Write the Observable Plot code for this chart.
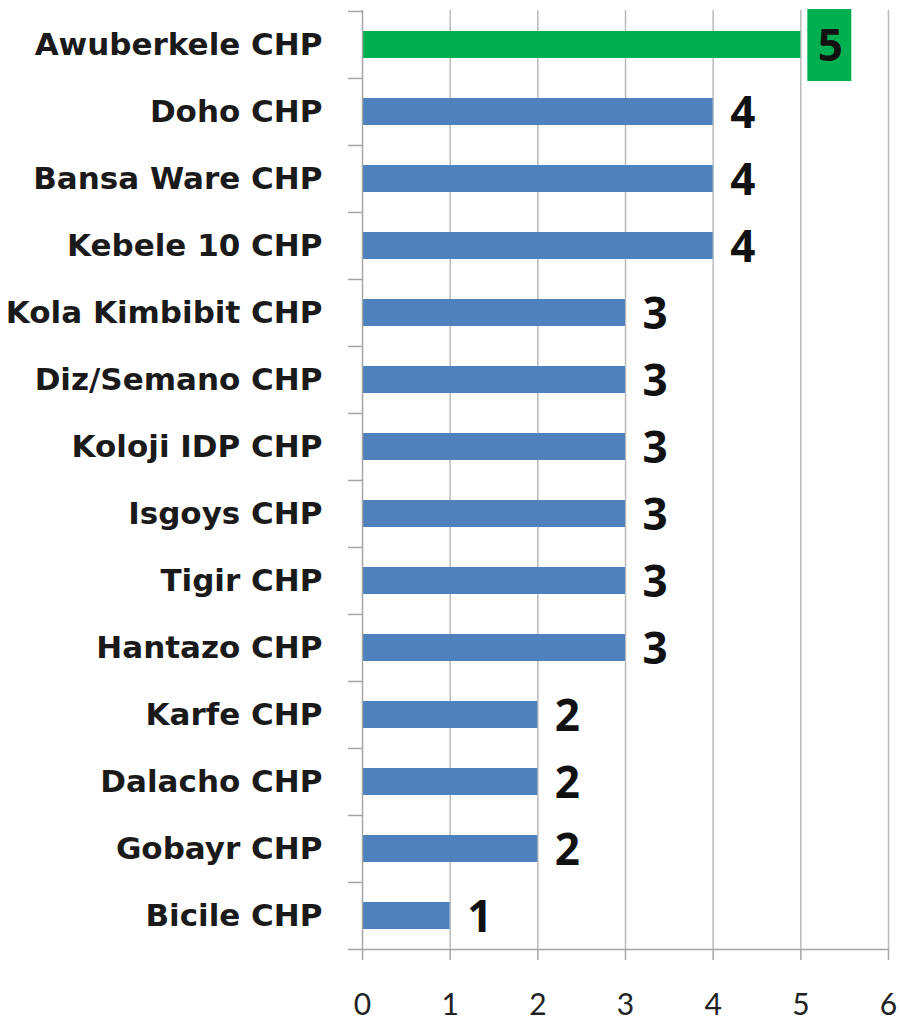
<!DOCTYPE html>
<html><head><meta charset="utf-8">
<script src="https://cdn.jsdelivr.net/npm/d3@7"></script>
<script src="https://cdn.jsdelivr.net/npm/@observablehq/plot@0.6"></script>
<style>body{margin:0;background:#fff}</style>
</head><body><div id="chart"></div>
<script>
const categories = ["Awuberkele CHP","Doho CHP","Bansa Ware CHP","Kebele 10 CHP","Kola Kimbibit CHP","Diz/Semano CHP","Koloji IDP CHP","Isgoys CHP","Tigir CHP","Hantazo CHP","Karfe CHP","Dalacho CHP","Gobayr CHP","Bicile CHP"];
const values = [5,4,4,4,3,3,3,3,3,3,2,2,2,1];
const xTicks = [0,1,2,3,4,5,6];
const highlight = "Awuberkele CHP";
const data = categories.map((name,i)=>({name, value: values[i]}));

const W=900, H=1021, mt=10, mb=72, ml=362, mr=12;
const step = (H-mt-mb)/categories.length;
const blue = "#4f81bd", green = "#00b050", axisGray = "#a6a6a6";

const chart = Plot.plot({
  width: W, height: H, marginTop: mt, marginBottom: mb, marginLeft: ml, marginRight: mr,
  style: {fontFamily: "'Open Sans', sans-serif", background: "#fff"},
  x: {domain: [0, 6], ticks: xTicks},
  y: {domain: categories, paddingInner: 0.6, paddingOuter: 0.3},
  marks: [
    Plot.gridX(xTicks.slice(1), {stroke: "#bababa", strokeOpacity: 1, strokeWidth: 1.5}),
    Plot.barX(data, {x: "value", y: "name", fill: d => d.name === highlight ? green : blue}),
    Plot.barX(data.filter(d => d.name === highlight), {x1: "value", x2: "value", y: "name", fill: green, insetLeft: 7, insetRight: -51, insetTop: -22, insetBottom: -23}),
    Plot.text(data, {x: "value", y: "name", text: d => String(d.value), dx: 17, dy: 2, textAnchor: "start", fontSize: 44, fontWeight: "bold", fill: "#111"}),
    Plot.frame({anchor: "left", stroke: axisGray, strokeWidth: 1.5}),
    Plot.frame({anchor: "bottom", stroke: axisGray, strokeWidth: 1.5, insetLeft: -14}),
    Plot.axisY({tickSize: 0, tickPadding: 40, fontSize: 31, fontWeight: "bold", fontFamily: "'DejaVu Sans', sans-serif", fill: "#1a1a1a", label: null}),
    Plot.axisY({tickSize: 14, tickFormat: () => "", dy: -step/2, stroke: axisGray, strokeWidth: 1.5, label: null}),
    Plot.axisX({ticks: xTicks, tickFormat: d3.format("d"), tickSize: 11, tickPadding: 33, fontSize: 30, fontFamily: "Lato, sans-serif", fill: "#222", stroke: axisGray, strokeWidth: 1.5, label: null})
  ]
});
document.getElementById("chart").appendChild(chart);
</script>
</body></html>
